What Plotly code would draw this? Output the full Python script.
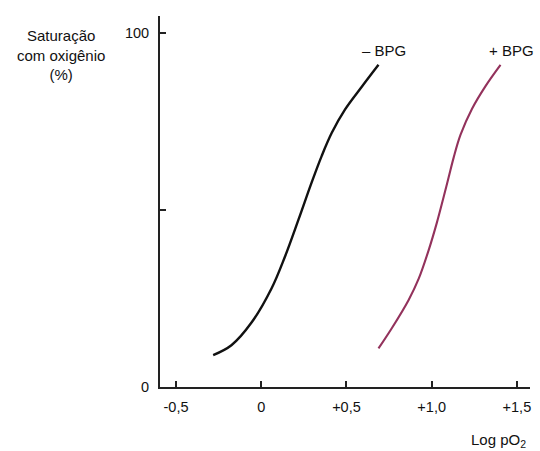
import plotly.graph_objects as go

# Data
log_po2_minus = [-0.282, -0.175, -0.057, 0.061, 0.139, 0.218, 0.296, 0.355, 0.414, 0.492, 0.590, 0.688]
sat_minus = [9.0, 11.8, 18.2, 27.9, 36.8, 47.2, 57.8, 65.3, 71.8, 78.4, 84.8, 91.0]

log_po2_plus = [0.688, 0.766, 0.865, 0.924, 0.982, 1.031, 1.071, 1.100, 1.129, 1.169, 1.237, 1.316, 1.404]
sat_plus = [10.9, 16.6, 24.6, 30.6, 38.6, 46.5, 53.8, 59.3, 64.8, 71.2, 78.6, 85.0, 91.0]

x_tickvals = [-0.5, 0, 0.5, 1.0, 1.5]
x_ticktext = ["-0,5", "0", "+0,5", "+1,0", "+1,5"]
y_tickvals = [0, 100]
y_ticktext = ["0", "100"]
y_minor_step = 50

series_labels = ["\u2013 BPG", "+ BPG"]

FONT = "Liberation Sans, Arial, sans-serif"

fig = go.Figure()
fig.add_trace(go.Scatter(x=log_po2_minus, y=sat_minus, mode="lines",
                         line=dict(color="#111111", width=2.4, shape="spline", smoothing=1.0),
                         showlegend=False, hoverinfo="skip"))
fig.add_trace(go.Scatter(x=log_po2_plus, y=sat_plus, mode="lines",
                         line=dict(color="#93325c", width=2.1, shape="spline", smoothing=1.0),
                         showlegend=False, hoverinfo="skip"))

# series labels near curve tops
fig.add_annotation(x=log_po2_minus[-1], y=sat_minus[-1], text=series_labels[0],
                   showarrow=False, xanchor="center", yanchor="middle",
                   xshift=6, yshift=14, font=dict(family=FONT, size=15, color="#111"))
fig.add_annotation(x=log_po2_plus[-1], y=sat_plus[-1], text=series_labels[1],
                   showarrow=False, xanchor="center", yanchor="middle",
                   xshift=11, yshift=14, font=dict(family=FONT, size=15, color="#111"))

# axis titles
fig.add_annotation(xref="paper", yref="paper", x=0.995, y=-0.143,
                   text="Log pO<sub>2</sub>", showarrow=False,
                   xanchor="right", yanchor="middle",
                   font=dict(family=FONT, size=15, color="#111"))
fig.add_annotation(xref="paper", yref="paper", x=-0.268, y=0.975,
                   text="Saturação<br>com oxigênio<br>(%)", showarrow=False,
                   xanchor="center", yanchor="top", align="center",
                   font=dict(family=FONT, size=15, color="#111"))

fig.update_xaxes(range=[-0.594, 1.577], tickvals=x_tickvals, ticktext=x_ticktext,
                 ticks="inside", ticklen=6, tickwidth=1.5, tickcolor="#222",
                 showline=True, linecolor="#222", linewidth=2,
                 showgrid=False, zeroline=False, ticklabelstandoff=6,
                 tickfont=dict(family=FONT, size=14.5, color="#111"))
fig.update_yaxes(range=[0, 104.8], tickvals=y_tickvals, ticktext=y_ticktext,
                 ticks="inside", ticklen=6, tickwidth=1.5, tickcolor="#222",
                 minor=dict(tick0=0, dtick=y_minor_step, ticks="inside", ticklen=6,
                            tickwidth=1.5, tickcolor="#222", showgrid=False),
                 showline=True, linecolor="#222", linewidth=2,
                 showgrid=False, zeroline=False, ticklabelstandoff=6,
                 tickfont=dict(family=FONT, size=14.5, color="#111"))

fig.update_layout(width=540, height=451,
                  margin=dict(l=160, r=10, t=16, b=64, autoexpand=False),
                  plot_bgcolor="white", paper_bgcolor="white",
                  font=dict(family=FONT, color="#111"))

fig.write_html("out.html", config={"displayModeBar": False},
               post_script="document.body.style.margin='0';")
